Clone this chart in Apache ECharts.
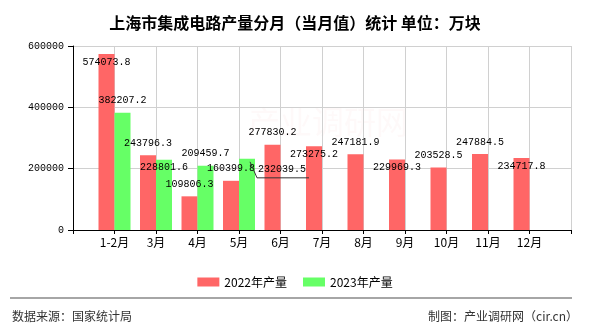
<!DOCTYPE html>
<html>
<head>
<meta charset="utf-8">
<script src="https://cdn.jsdelivr.net/npm/echarts@6/dist/echarts.min.js"></script>
<style>
  html, body { margin: 0; padding: 0; background: #fff; }
  #chart { width: 590px; height: 330px; }
</style>
</head>
<body>
<div id="chart"></div>
<script>
// 上海市集成电路产量（当月值），单位：万块
const months = ['1-2月', '3月', '4月', '5月', '6月', '7月', '8月', '9月', '10月', '11月', '12月'];
const output2022 = [574073.8, 243796.3, 109806.3, 160399.8, 277830.2, 273275.2, 247181.9, 229969.3, 203528.5, 247884.5, 234717.8];
const output2023 = [382207.2, 228801.6, 209459.7, 232039.5];
const seriesNames = ['2022年产量', '2023年产量'];
const yTicks = { min: 0, max: 600000, interval: 200000 };

// where each value label sits relative to its bar
const labelPos2022 = ['insideTop', 'top', 'top', 'top', 'top', 'insideTop', 'top', 'insideTop', 'top', 'top', 'insideTop'];
const labelPos2023 = ['top', 'insideTop', 'top', 'moved'];

const RED = '#FF6666';
const GREEN = '#66FF66';
const BAR_W = 16;
const MONO = "'Liberation Mono', 'DejaVu Sans Mono', monospace";
const SANS = "'Noto Sans CJK SC', 'Noto Sans', sans-serif";

// the month axis runs tick-to-tick with an empty slot at each end
const axisCats = [''].concat(months, ['']);

function buildData(values, positions) {
  const out = [null];
  for (let i = 0; i < months.length; i++) {
    if (i >= values.length) { out.push(null); continue; }
    const pos = positions[i];
    const item = { value: values[i] };
    if (pos === 'moved') {
      item.label = { position: 'top', distance: 6 };
      item.moved = true;
    } else {
      item.label = { position: pos, distance: pos === 'top' ? 6 : 2 };
    }
    out.push(item);
  }
  out.push(null);
  return out;
}

const data2022 = buildData(output2022, labelPos2022);
const data2023 = buildData(output2023, labelPos2023);

const labelStyle = {
  show: true,
  color: '#000',
  fontFamily: MONO,
  fontSize: 10,
  lineHeight: 12,
  formatter: p => (p.value == null ? '' : String(p.value))
};

const chart = echarts.init(document.getElementById('chart'), null, { renderer: 'canvas' });

const footerGraphics = [
  {
    type: 'text',
    silent: true,
    z: -10,
    left: 248,
    top: 106,
    style: { text: '产业调研网', font: '32px ' + SANS, fill: 'rgba(230,90,90,0.04)' }
  },
  {
    type: 'line',
    silent: true,
    shape: { x1: 10, y1: 298, x2: 572, y2: 298 },
    style: { stroke: '#888', lineWidth: 1.5 }
  },
  {
    type: 'text',
    silent: true,
    left: 12,
    top: 310,
    style: { text: '数据来源：国家统计局', font: '12px ' + SANS, fill: '#333' }
  },
  {
    type: 'text',
    silent: true,
    right: 12,
    top: 310,
    style: { text: '制图：产业调研网（cir.cn）', font: '12px ' + SANS, fill: '#333' }
  }
];

chart.setOption({
  animation: false,
  backgroundColor: '#fff',
  title: {
    text: '上海市集成电路产量分月（当月值）统计 单位：万块',
    left: 'center',
    top: 9,
    textStyle: { fontFamily: SANS, fontSize: 16, fontWeight: 'bold', color: '#000', lineHeight: 18 }
  },
  legend: {
    data: seriesNames,
    top: 271,
    left: 'center',
    itemWidth: 22,
    itemHeight: 9,
    itemGap: 16,
    icon: 'rect',
    textStyle: { fontFamily: SANS, fontSize: 12, color: '#000' }
  },
  grid: { left: 73, right: 19, top: 46, bottom: 100 },
  xAxis: {
    type: 'category',
    data: axisCats,
    boundaryGap: false,
    axisLine: { lineStyle: { color: '#000', width: 1 } },
    axisTick: { show: true, length: 4, lineStyle: { color: '#000' } },
    axisLabel: { color: '#000', fontFamily: SANS, fontSize: 12, margin: 6, interval: 0 },
    splitLine: { show: true, lineStyle: { color: '#d0d0d0', width: 1 } }
  },
  yAxis: {
    type: 'value',
    min: yTicks.min,
    max: yTicks.max,
    interval: yTicks.interval,
    axisLine: { show: true, lineStyle: { color: '#000', width: 1 } },
    axisTick: { show: true, length: 5, lineStyle: { color: '#000' } },
    axisLabel: { color: '#000', fontFamily: MONO, fontSize: 10, margin: 9, formatter: v => String(v) },
    splitLine: { show: true, lineStyle: { color: '#d0d0d0', width: 1 } }
  },
  series: [
    {
      name: seriesNames[0],
      type: 'bar',
      data: data2022,
      barWidth: BAR_W,
      barGap: '0%',
      itemStyle: { color: RED },
      label: labelStyle
    },
    {
      name: seriesNames[1],
      type: 'bar',
      data: data2023,
      barWidth: BAR_W,
      barGap: '0%',
      itemStyle: { color: GREEN },
      label: labelStyle,
      labelLayout: function (params) {
        const item = data2023[params.dataIndex];
        if (!item || !item.moved) return {};
        const r = params.rect;
        return {
          x: r.x + r.width + 3,
          y: r.y + 17,
          align: 'left',
          verticalAlign: 'bottom'
        };
      }
    }
  ],
  graphic: footerGraphics
});

// leader line for the label that was shifted beside its bar
const leaders = [];
data2023.forEach((item, idx) => {
  if (!item || !item.moved) return;
  const p = chart.convertToPixel({ xAxisIndex: 0, yAxisIndex: 0 }, [idx, item.value]);
  const barRight = p[0] + BAR_W;
  const top = p[1];
  const textW = String(item.value).length * 6;
  const lineY = top + 19;
  leaders.push({
    type: 'polyline',
    silent: true,
    z: 100,
    shape: {
      points: [
        [barRight - 5, top + 3],
        [barRight + 2, lineY],
        [barRight + 3 + textW + 3, lineY]
      ]
    },
    style: { stroke: '#333', lineWidth: 1, fill: null }
  });
});
chart.setOption({ graphic: footerGraphics.concat(leaders) });
</script>
</body>
</html>
